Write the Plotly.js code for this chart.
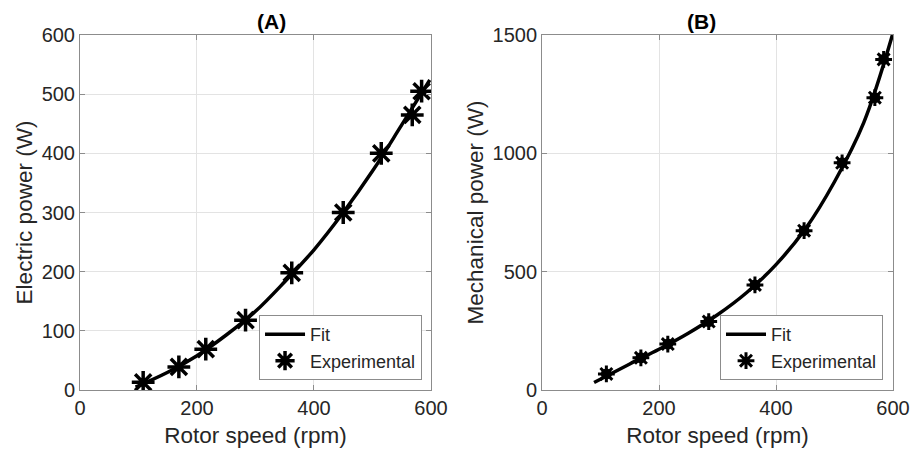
<!DOCTYPE html>
<html>
<head>
<meta charset="utf-8">
<script src="https://cdn.plot.ly/plotly-3.0.1.min.js"></script>
<style>html,body{margin:0;padding:0;background:#fff;}#chart{width:911px;height:453px;}</style>
</head>
<body>
<div id="chart"></div>
<script>
// Panel A: electric power
const expSpeedA = [108, 169, 215, 283, 362, 450, 515, 568, 584];
const expPowerA = [13, 39, 69, 118, 198, 300, 400, 465, 505];
const fitSpeedA = [95, 150, 200, 250, 300, 350, 400, 450, 500, 550, 598];
const fitPowerA = [5, 30, 58, 93, 133, 183, 237, 300, 370, 448, 524];

// Panel B: mechanical power
const expSpeedB = [110, 169, 215, 285, 364, 448, 513, 569, 584];
const expPowerB = [68, 136, 194, 289, 444, 673, 960, 1235, 1397];
const fitSpeedB = [89, 150, 200, 250, 300, 350, 400, 450, 500, 550, 599];
const fitPowerB = [32, 110, 172, 240, 318, 412, 530, 680, 880, 1130, 1500];

const xTicks = [0, 200, 400, 600];
const yTicksA = [0, 100, 200, 300, 400, 500, 600];
const yTicksB = [0, 500, 1000, 1500];

const FONT = 'Liberation Sans, Arial, sans-serif';
const TXT = '#262626';

const traces = [
  {x: fitSpeedA, y: fitPowerA, type: 'scatter', mode: 'lines', name: 'Fit',
   line: {color: '#000', width: 3.5, shape: 'spline'}, xaxis: 'x', yaxis: 'y', legend: 'legend'},
  {x: expSpeedA, y: expPowerA, type: 'scatter', mode: 'markers', name: 'Experimental',
   marker: {symbol: 'asterisk-open', size: 19, color: '#000', line: {color: '#000', width: 3.5}},
   xaxis: 'x', yaxis: 'y', legend: 'legend'},
  {x: fitSpeedB, y: fitPowerB, type: 'scatter', mode: 'lines', name: 'Fit',
   line: {color: '#000', width: 3.5, shape: 'spline'}, xaxis: 'x2', yaxis: 'y2', legend: 'legend2'},
  {x: expSpeedB, y: expPowerB, type: 'scatter', mode: 'markers', name: 'Experimental', showlegend: false,
   marker: {symbol: 'circle', size: 11, color: '#000', line: {width: 0}},
   xaxis: 'x2', yaxis: 'y2', legend: 'legend2'},
  {x: expSpeedB, y: expPowerB, type: 'scatter', mode: 'markers', name: 'Experimental',
   marker: {symbol: 'asterisk-open', size: 14, color: '#000', line: {color: '#000', width: 3}},
   xaxis: 'x2', yaxis: 'y2', legend: 'legend2'}
];

function xAxis(domain, anchor) {
  return {
    domain: domain, anchor: anchor, range: [0, 600], tickvals: xTicks,
    showline: true, linecolor: '#8c8c8c', linewidth: 1, mirror: 'ticks',
    ticks: 'inside', ticklen: 5, tickcolor: '#8c8c8c',
    showgrid: true, gridcolor: '#e3e3e3', gridwidth: 1, zeroline: false,
    tickfont: {family: FONT, size: 20, color: TXT},
    title: {text: 'Rotor speed (rpm)', font: {family: FONT, size: 22.5, color: TXT}, standoff: 9},
    fixedrange: true
  };
}
function yAxis(range, ticks, title, anchor) {
  return {
    anchor: anchor, range: range, tickvals: ticks, domain: [0, 1],
    showline: true, linecolor: '#8c8c8c', linewidth: 1, mirror: 'ticks',
    ticks: 'inside', ticklen: 5, tickcolor: '#8c8c8c',
    showgrid: true, gridcolor: '#e3e3e3', gridwidth: 1, zeroline: false,
    tickfont: {family: FONT, size: 20, color: TXT},
    title: {text: title, font: {family: FONT, size: 22.5, color: TXT}, standoff: 2},
    fixedrange: true
  };
}

const legendStyle = {
  xanchor: 'right', yanchor: 'bottom', y: 0.028,
  bgcolor: '#fff', bordercolor: '#8c8c8c', borderwidth: 1,
  font: {family: FONT, size: 18, color: TXT}, tracegroupgap: 0, itemwidth: 40
};

const layout = {
  width: 911, height: 453,
  margin: {l: 80, r: 18, t: 35, b: 63},
  paper_bgcolor: '#fff', plot_bgcolor: '#fff',
  showlegend: true,
  xaxis: xAxis([0, 0.4317], 'y'),
  yaxis: yAxis([0, 600], yTicksA, 'Electric power (W)', 'x'),
  xaxis2: xAxis([0.5683, 1], 'y2'),
  yaxis2: yAxis([0, 1500], yTicksB, 'Mechanical power (W)', 'x2'),
  legend: Object.assign({x: 0.4207}, legendStyle),
  legend2: Object.assign({x: 0.9877}, legendStyle),
  annotations: [
    {text: '<b>(A)</b>', xref: 'paper', yref: 'paper', x: 0.2158, y: 1, yanchor: 'bottom',
     showarrow: false, font: {family: FONT, size: 21, color: '#000'}, yshift: 0},
    {text: '<b>(B)</b>', xref: 'paper', yref: 'paper', x: 0.7842, y: 1, yanchor: 'bottom',
     showarrow: false, font: {family: FONT, size: 21, color: '#000'}, yshift: 0}
  ]
};

Plotly.newPlot('chart', traces, layout, {displayModeBar: false, staticPlot: true});
</script>
</body>
</html>
